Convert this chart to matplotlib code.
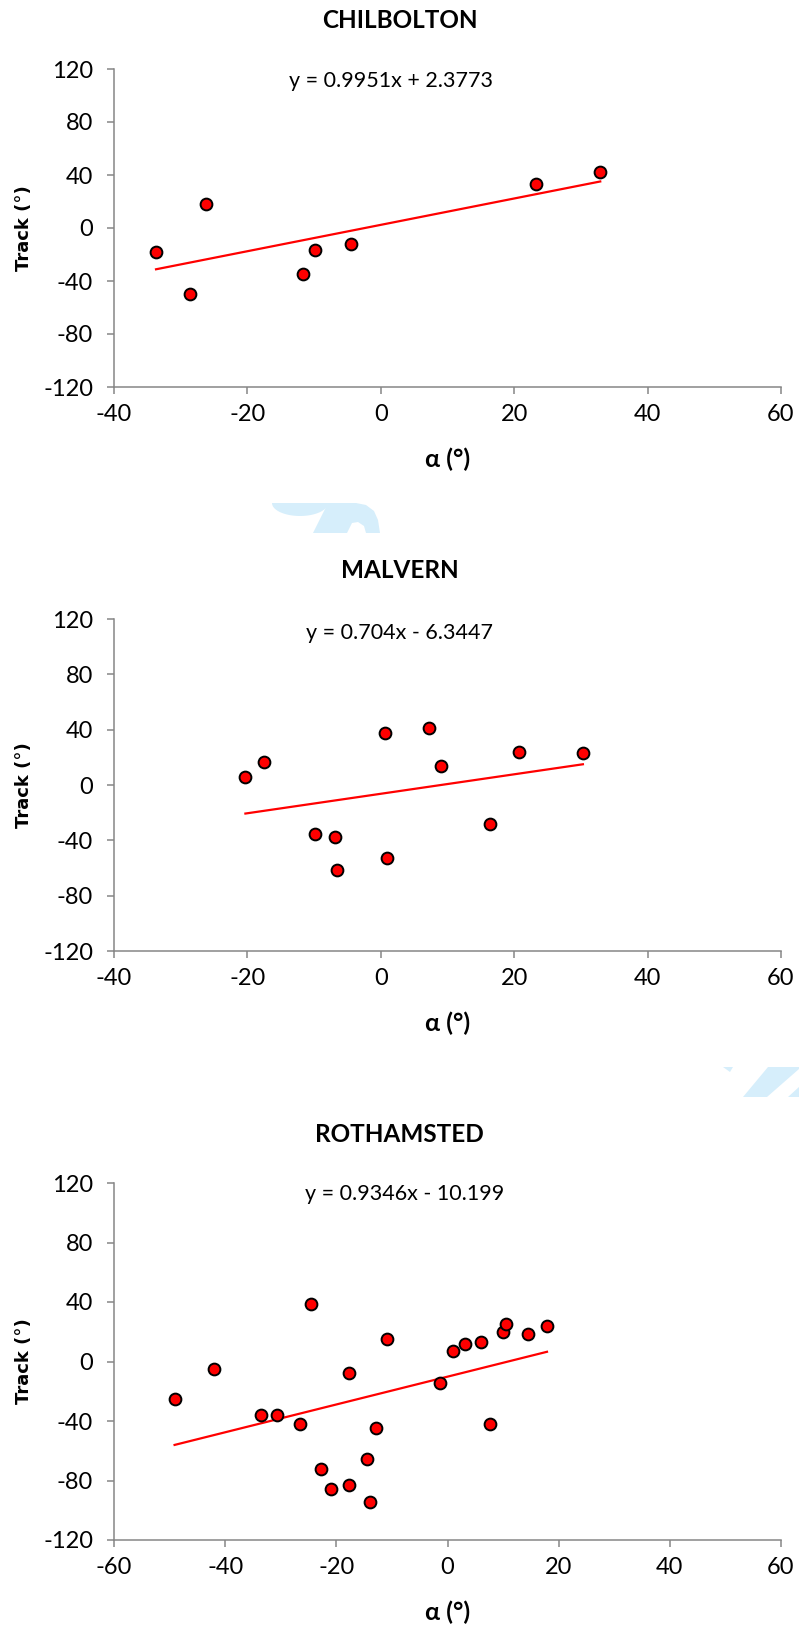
import numpy as np
import matplotlib
matplotlib.use("Agg")
import matplotlib.pyplot as plt
from matplotlib.patches import Polygon
from matplotlib.transforms import Affine2D

plt.rcParams["axes.unicode_minus"] = False

# ---- data -------------------------------------------------------------
sites = ["CHILBOLTON", "MALVERN", "ROTHAMSTED"]

chil_alpha = [-33.7, -28.6, -26.2, -11.7, -9.8, -4.5, 23.3, 32.9]
chil_track = [-17.9, -49.7, 18.1, -34.5, -16.9, -11.8, 33.3, 42.1]

malv_alpha = [-20.3, -17.5, -9.9, -6.9, -6.6, 0.6, 1.0, 7.3, 9.0, 16.3, 20.7, 30.3]
malv_track = [6.0, 16.4, -35.3, -37.9, -61.6, 37.4, -52.9, 41.3, 13.5, -28.0, 23.9, 22.9]

roth_alpha = [-49.1, -42.0, -33.6, -30.7, -26.5, -24.5, -22.8, -21.0, -17.7, -17.7,
              -14.4, -14.0, -12.8, -10.9, -1.3, 1.0, 3.2, 6.1, 7.6, 10.0, 10.6, 14.5, 17.9]
roth_track = [-25.3, -5.2, -36.3, -35.9, -42.0, 38.4, -72.2, -85.5, -7.5, -83.2,
              -65.4, -94.7, -44.5, 14.8, -14.3, 7.0, 11.5, 12.9, -42.0, 19.7, 25.1, 18.3, 24.1]

slopes = [0.9951, 0.704, 0.9346]
intercepts = [2.3773, -6.3447, -10.199]

x_limits = [(-40, 60), (-40, 60), (-60, 60)]
y_ticks = [-120, -80, -40, 0, 40, 80, 120]

# ---- layout (pixels) ----------------------------------------------------
W, H = 799, 1625
AX_LEFT, AX_RIGHT = 114, 781
ax_tops = [69, 619, 1183]
ax_bottoms = [387, 951, 1540]
title_y = [20, 570, 1135]
eq_pos = [(391, 81), (400, 633), (405, 1194)]
xlabel_gap = 72
ylabel_x = 24

RED = "#FF0000"
AXIS_GREY = "#868686"
FONT = ["Lato", "DejaVu Sans"]

fig = plt.figure(figsize=(W / 100, H / 100), dpi=100)
fig.patch.set_facecolor("white")

px = Affine2D().scale(1 / W, -1 / H).translate(0, 1) + fig.transFigure


def fx(x):
    return x / W


def fy(y):
    return 1 - y / H


# faint logo fragments in the background
wm_col = "#D6EEFB"
t = np.linspace(0, np.pi, 40)
bowl = np.column_stack([300 + 28 * np.cos(t), 503 + 13 * np.sin(t)])
hook = [(313, 533), (328, 503), (356, 503), (366, 505), (374, 511), (378, 520),
        (380, 533), (366, 533), (364, 526), (358, 522), (352, 523), (347, 533)]
band = [(743, 1097), (768, 1067), (799, 1067), (799, 1069), (767, 1097)]
sliver = [(723, 1067), (733, 1067), (730, 1072)]
corner = [(788, 1097), (799, 1087), (799, 1097)]
for shape in (bowl, hook, band, sliver, corner):
    fig.add_artist(Polygon(shape, closed=True, facecolor=wm_col, edgecolor="none",
                           transform=px, zorder=0))

series = [(chil_alpha, chil_track), (malv_alpha, malv_track), (roth_alpha, roth_track)]

for i, (alpha, track) in enumerate(series):
    top, bottom = ax_tops[i], ax_bottoms[i]
    h = bottom - top
    ax = fig.add_axes([fx(AX_LEFT), fy(bottom), (AX_RIGHT - AX_LEFT) / W, h / H])
    ax.set_facecolor("none")

    # regression line over the span of the data
    xs = np.array([min(alpha), max(alpha)])
    ax.plot(xs, slopes[i] * xs + intercepts[i], color=RED, lw=1.6, zorder=2)

    ax.scatter(alpha, track, s=72, c=RED, edgecolors="black", linewidths=1.4,
               zorder=3, clip_on=False)

    lo, hi = x_limits[i]
    ax.set_xlim(lo, hi)
    ax.set_ylim(-120, 120)
    ax.set_xticks(np.arange(lo, hi + 1, 20))
    ax.set_yticks(y_ticks)

    for side in ("top", "right"):
        ax.spines[side].set_visible(False)
    for side in ("left", "bottom"):
        ax.spines[side].set_color(AXIS_GREY)
        ax.spines[side].set_linewidth(1.1)

    ax.tick_params(direction="out", length=5, width=1.1, color=AXIS_GREY,
                   labelsize=17, labelcolor="black")
    ax.tick_params(axis="x", pad=7)
    ax.tick_params(axis="y", pad=10)
    for lab in ax.get_xticklabels() + ax.get_yticklabels():
        lab.set_family(FONT)

    ax.set_xlabel("α (°)", family=FONT, fontweight="bold", fontsize=18)
    ax.xaxis.label.set_va("center")
    ax.xaxis.set_label_coords(0.5, -xlabel_gap / h)

    ax.set_ylabel("Track (°)", family="DejaVu Sans", fontweight="bold", fontsize=13)
    ax.yaxis.label.set_va("center")
    ax.yaxis.set_label_coords((ylabel_x - AX_LEFT) / (AX_RIGHT - AX_LEFT), 0.5)

    sign = "+" if intercepts[i] >= 0 else "-"
    eq = f"y = {slopes[i]:g}x {sign} {abs(intercepts[i]):g}"
    ex, ey = eq_pos[i]
    fig.text(fx(ex), fy(ey), eq, ha="center", va="center", fontsize=15.5, family=FONT)

    fig.text(0.5, fy(title_y[i]), sites[i], ha="center", va="center",
             fontsize=17.5, fontweight="bold", family=FONT)

fig.savefig("out.png", dpi=100, facecolor="white")
